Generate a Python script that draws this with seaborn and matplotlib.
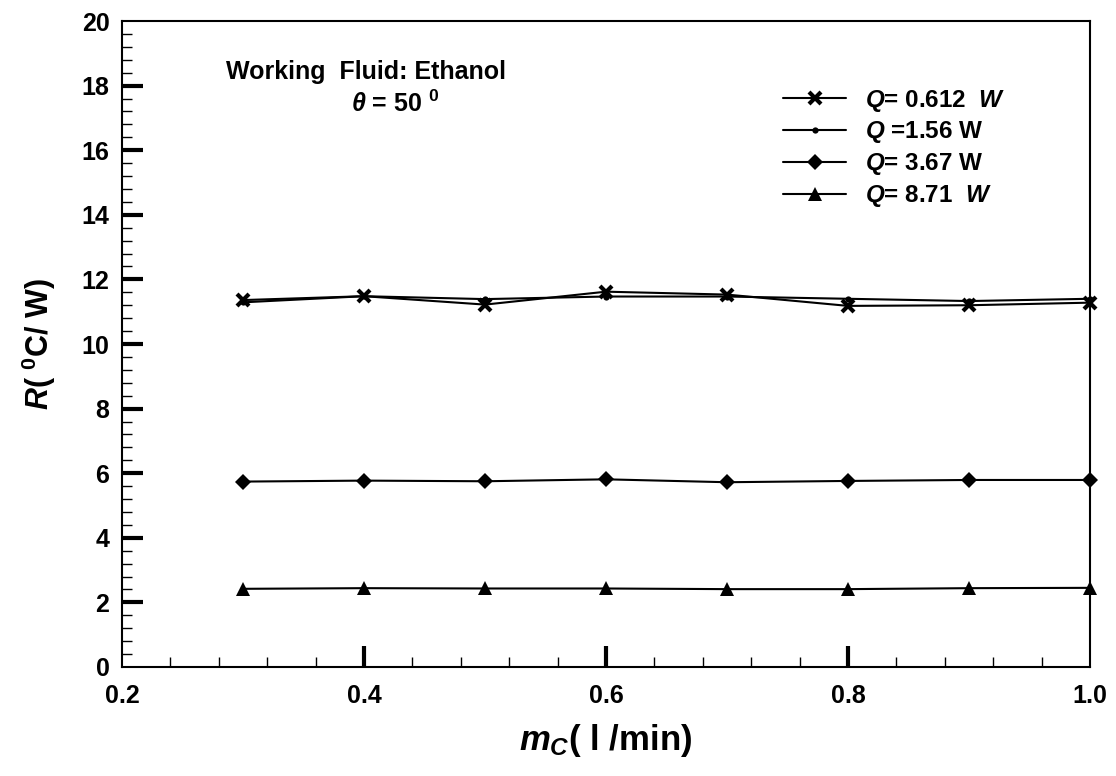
import matplotlib
matplotlib.use("Agg")
import matplotlib.pyplot as plt
from matplotlib.ticker import MultipleLocator
import seaborn as sns
import pandas as pd

# Coolant flow rate (l/min) and thermal resistance (°C/W) for each heat input
flow_rate = [0.3, 0.4, 0.5, 0.6, 0.7, 0.8, 0.9, 1.0]
r_q0612 = [11.36, 11.48, 11.22, 11.62, 11.53, 11.18, 11.20, 11.28]
r_q156 = [11.29, 11.48, 11.39, 11.47, 11.47, 11.40, 11.33, 11.40]
r_q367 = [5.74, 5.77, 5.75, 5.81, 5.72, 5.76, 5.79, 5.79]
r_q871 = [2.42, 2.44, 2.43, 2.43, 2.41, 2.41, 2.44, 2.45]

series_labels = [
    r"$Q$= 0.612  $W$",
    r"$Q$ =1.56 W",
    r"$Q$= 3.67 W",
    r"$Q$= 8.71  $W$",
]
x_ticks = [0.2, 0.4, 0.6, 0.8, 1.0]
y_ticks = [0, 2, 4, 6, 8, 10, 12, 14, 16, 18, 20]

sns.set_style("white")
plt.rcParams["font.family"] = ["Liberation Sans", "DejaVu Sans"]
plt.rcParams["font.weight"] = "bold"
plt.rcParams["text.color"] = "black"
plt.rcParams["axes.labelcolor"] = "black"
plt.rcParams["xtick.color"] = "black"
plt.rcParams["ytick.color"] = "black"
plt.rcParams["mathtext.fontset"] = "custom"
plt.rcParams["mathtext.rm"] = "Liberation Sans:bold"
plt.rcParams["mathtext.bf"] = "Liberation Sans:bold"
plt.rcParams["mathtext.it"] = "Liberation Sans:bold:italic"

df = pd.DataFrame({
    "flow": flow_rate * 4,
    "R": r_q0612 + r_q156 + r_q367 + r_q871,
    "series": sum([[lab] * len(flow_rate) for lab in series_labels], []),
})

fig = plt.figure(figsize=(11.16, 7.76), dpi=100)
ax = fig.add_axes([0.1093, 0.1405, 0.8674, 0.8324])

marker_styles = [
    dict(marker="x", markersize=8.5, markeredgewidth=3.0),
    dict(marker="o", markersize=4.5, markeredgewidth=0),
    dict(marker="D", markersize=8, markeredgewidth=0),
    dict(marker="^", markersize=9.5, markeredgewidth=0),
]
for lab, style in zip(series_labels, marker_styles):
    sub = df[df["series"] == lab]
    sns.lineplot(data=sub, x="flow", y="R", ax=ax, color="black",
                 linewidth=1.5, label=lab, markeredgecolor="black",
                 markerfacecolor="black", clip_on=False, **style)

ax.set_xlim(0.2, 1.0)
ax.set_ylim(0, 20)
ax.set_xticks(x_ticks)
ax.set_xticklabels([f"{v:.1f}" for v in x_ticks])
ax.set_yticks(y_ticks)
ax.set_yticklabels([str(v) for v in y_ticks])
ax.xaxis.set_minor_locator(MultipleLocator(0.04))
ax.yaxis.set_minor_locator(MultipleLocator(0.4))
ax.tick_params(which="both", bottom=True, left=True, top=False, right=False)
ax.tick_params(which="major", direction="in", length=15, width=3,
               labelsize=18, color="black", labelcolor="black")
ax.tick_params(axis="y", which="major", pad=9)
ax.tick_params(axis="x", which="major", pad=12)
ax.tick_params(which="minor", direction="in", length=7, width=1,
               color="black")
for lab in ax.get_xticklabels() + ax.get_yticklabels():
    lab.set_fontweight("bold")

# the frame corners carry no tick marks
for axis in (ax.xaxis, ax.yaxis):
    major = axis.get_major_ticks()
    for t in (major[0], major[-1]):
        t.tick1line.set_visible(False)

for sp in ax.spines.values():
    sp.set_visible(True)
    sp.set_color("black")
    sp.set_linewidth(1.5)

ax.set_xlabel(r"$m_C$( l /min$)$", fontsize=25, fontweight="bold",
              labelpad=10)
ax.set_ylabel(r"$R$( $^{0}$C/ W)", fontsize=22, fontweight="bold",
              labelpad=17)

ax.text(0.252, 0.921, "Working  Fluid: Ethanol", transform=ax.transAxes,
        fontsize=18, fontweight="bold", ha="center", va="center")
ax.text(0.282, 0.872, r"$\theta$ = 50 $^{0}$", transform=ax.transAxes,
        fontsize=18, fontweight="bold", ha="center", va="center")

ax.legend(loc="upper left", bbox_to_anchor=(0.683, 0.897), frameon=False,
          fontsize=17.5, handlelength=2.6, handletextpad=0.75,
          labelspacing=0.24, borderpad=0, borderaxespad=0)

fig.savefig("out.png", dpi=100)
